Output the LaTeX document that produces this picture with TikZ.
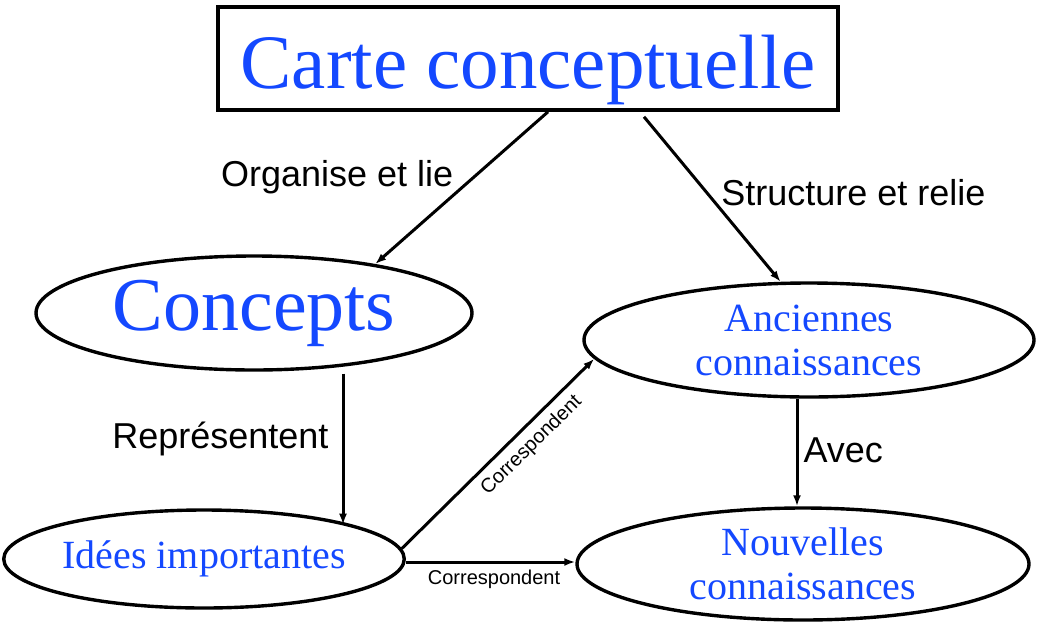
\documentclass[tikz,border=0pt]{standalone}
\usepackage{fontspec}
\setmainfont{Liberation Serif}
\setsansfont{Liberation Sans}
\usetikzlibrary{shapes.geometric, positioning, arrows.meta}
\definecolor{conceptblue}{RGB}{20,72,255}

\begin{document}
\begin{tikzpicture}[x=1pt,y=-1pt,on grid,
   concept/.style={ellipse,draw,line width=3.4pt,inner xsep=0pt,inner ysep=-3pt,
      text=conceptblue,align=center,font=\fontsize{40}{44}\selectfont},
   lien/.style={font=\sffamily\fontsize{36}{40}\selectfont,inner sep=13pt},
   petit/.style={font=\sffamily\fontsize{20}{24}\selectfont,inner sep=7pt},
   fleche/.style={-{Latex[length=11pt,width=8pt]},line width=3pt}]
   \useasboundingbox (0,0) rectangle (1039,622);
   \node[draw,line width=3.6pt,minimum width=620pt,minimum height=103pt,inner sep=0pt,
      text height=59pt,text depth=0pt,text=conceptblue,
      font=\fontsize{77}{80}\selectfont] (carte) at (528,58.5) {Carte conceptuelle};
   \node[concept,minimum width=436pt,minimum height=114pt,
      font=\fontsize{76}{80}\selectfont] (concepts) at (254,313) {Concepts};
   \node[concept,minimum width=373pt,minimum height=98pt] (idees) at (204,559) {Idées importantes};
   \node[concept,minimum width=450pt,minimum height=114pt] (anciennes) at (809,340) {Anciennes\\connaissances};
   \node[concept,minimum width=452pt,minimum height=112pt] (nouvelles) [below=224pt of anciennes,xshift=-6pt] {Nouvelles\\connaissances};
   \coordinate (cstart) at ([xshift=89pt,yshift=-2pt]concepts.south);
   \coordinate (astart) at ([xshift=-12pt]anciennes.south);
   \coordinate (istart) at ([yshift=-3pt]idees.east);
   \draw[fleche] ([xshift=20pt]carte.south) -- node[lien,pos=0.43,left,xshift=-6pt] {Organise et lie} (concepts.22);
   \draw[fleche] ([xshift=116pt,yshift=-5pt]carte.south) -- node[lien,pos=0.46,right] {Structure et relie} (anciennes.116);
   \draw[fleche] (cstart) -- node[lien,pos=0.43,left] {Représentent} (cstart |- idees.13);
   \draw[fleche] (astart) -- node[lien,pos=0.48,right,inner sep=5pt] {Avec} (astart |- nouvelles.north);
   \draw[fleche] (idees.3) -- node[petit,pos=0.61,sloped,below] {Correspondent} (anciennes.185);
   \draw[fleche] (istart) -- node[petit,pos=0.52,below,inner sep=6pt] {Correspondent} (istart -| nouvelles.west);
\end{tikzpicture}
\end{document}
